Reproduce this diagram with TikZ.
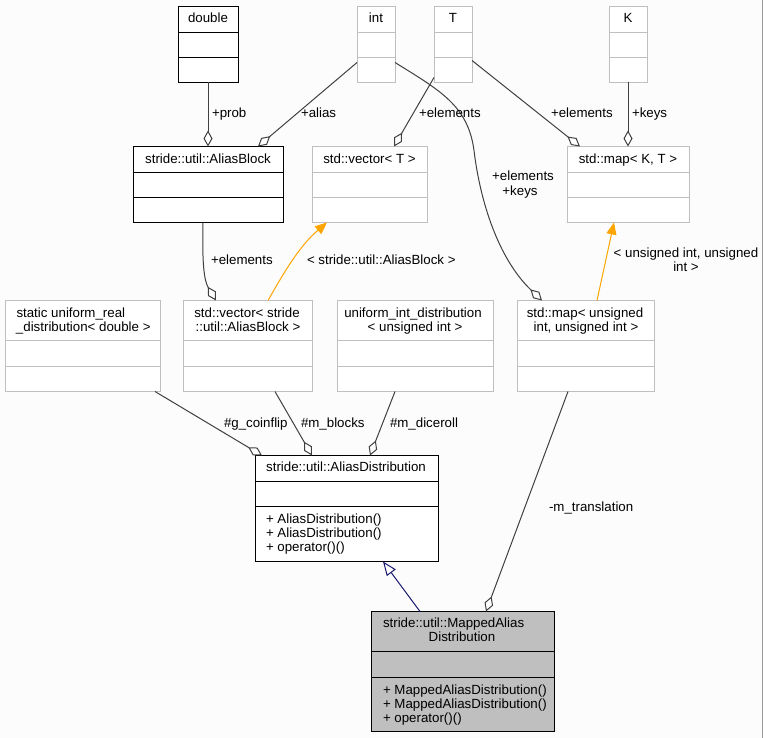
\documentclass[tikz,border=0pt]{standalone}
\usepackage{fontspec}
\setmainfont{Liberation Sans}
\usetikzlibrary{arrows.meta,calc}
\definecolor{bgc}{HTML}{FBFCFB}
\definecolor{boxgray}{HTML}{BFBFBF}
\definecolor{edgegray}{HTML}{404040}
\definecolor{navyblue}{HTML}{191970}
\definecolor{orangec}{HTML}{FFA500}
\definecolor{maingray}{HTML}{BFBFC0}
\newcommand\umlbox[8]{%
  \node[#2, minimum width={(#5-#3)*1pt}, minimum height={(#6-#4)*1pt}, anchor=north west] (#1) at (#3,#4) {};
  \draw[#2 div] (#3,#7) -- (#5,#7);
  \draw[#2 div] (#3,#8) -- (#5,#8);}
\begin{document}
\begin{tikzpicture}[x=1pt,y=-1pt,
  every node/.style={inner sep=0pt, outer sep=0pt, font=\fontsize{13.3}{14.5}\selectfont},
  graybox/.style={draw=boxgray, fill=white, line width=1pt},
  graybox div/.style={draw=boxgray, line width=1pt},
  blackbox/.style={draw=black, fill=white, line width=1pt},
  blackbox div/.style={draw=black, line width=1pt},
  mainbox/.style={draw=black, fill=maingray, line width=1pt},
  mainbox div/.style={draw=black, line width=1pt},
  edge/.style={draw=edgegray, line width=1pt},
  agg/.style={edge, -{Diamond[fill=white, length=16pt, width=9pt, line width=1pt]}},
  spec/.style={draw=orangec, line width=1pt, -{Triangle[length=12pt, width=10pt, fill=orangec]}},
  inherit/.style={draw=navyblue, line width=1pt, -{Triangle[open, fill=white, length=14pt, width=11pt, line width=1pt]}},
  txt/.style={anchor=base},
  ltxt/.style={anchor=base west}]
\fill[bgc] (0,0) rectangle (763,737);
\draw[color=gray!80, line width=1pt] (762.5,0) -- (762.5,737);
% boxes
\umlbox{double}{blackbox}{178}{6}{238}{82}{32}{57}
\umlbox{int}{graybox}{357}{6}{395}{82}{32}{57}
\umlbox{T}{graybox}{434}{6}{472}{82}{32}{57}
\umlbox{K}{graybox}{609}{6}{647}{82}{32}{57}
\umlbox{ablock}{blackbox}{133}{146}{283}{222}{172}{197}
\umlbox{vecT}{graybox}{312}{146}{427}{222}{172}{197}
\umlbox{mapKT}{graybox}{567}{146}{689}{222}{172}{197}
\umlbox{urd}{graybox}{5}{300}{160}{391}{340}{366}
\umlbox{vecAB}{graybox}{183}{300}{312}{391}{340}{366}
\umlbox{uid}{graybox}{337}{300}{493}{391}{340}{366}
\umlbox{mapUU}{graybox}{517}{300}{654}{391}{340}{366}
\umlbox{AD}{blackbox}{255}{455}{438}{561}{481}{506}
\umlbox{MAD}{mainbox}{371}{611}{554}{731}{651}{677}
% titles
\node[txt] (tdouble) at (208,22) {double};
\node[txt] (tint) at (376,22) {int};
\node[txt] (tT) at (453,22) {T};
\node[txt] (tK) at (628,22) {K};
\node[txt] (tablock) at (208,163) {stride::util::AliasBlock};
\node[txt] (tvecT) at (369.5,163) {std::vector< T >};
\node[txt] (tmapKT) at (628,163) {std::map< K, T >};
\node[ltxt] (turd1) at (16.5,317) {static uniform\_real};
\node[ltxt] (turd2) at (16,331) {\_distribution< double >};
\node[txt] (tvecAB1) at (247,317) {std::vector< stride};
\node[txt] (tvecAB2) at (248,331) {::util::AliasBlock >};
\node[txt] (tuid1) at (413,317) {uniform\_int\_distribution};
\node[txt] (tuid2) at (415,331) {< unsigned int >};
\node[txt] (tmapUU1) at (585,317) {std::map< unsigned};
\node[txt] (tmapUU2) at (586,331) {int, unsigned int >};
\node[txt] (tAD) at (346,471) {stride::util::AliasDistribution};
\node[ltxt] (mAD1) at (266,523) {+ AliasDistribution()};
\node[ltxt] (mAD2) at (266,537) {+ AliasDistribution()};
\node[ltxt] (mAD3) at (266,551) {+ operator()()};
\node[ltxt] (tMAD1) at (383,627) {stride::util::MappedAlias};
\node[txt] (tMAD2) at (462,641) {Distribution};
\node[ltxt] (mMAD1) at (383,694) {+ MappedAliasDistribution()};
\node[ltxt] (mMAD2) at (383,708) {+ MappedAliasDistribution()};
\node[ltxt] (mMAD3) at (383,722) {+ operator()()};
% edges
\draw[agg] (double.south) -- (ablock.north);
\draw[agg] ($(int.north west)+(0,56)$) -- ($(ablock.north west)+(125,0)$);
\draw[agg] ($(T.north west)+(0,71)$) -- ($(vecT.north west)+(82,0)$);
\draw[agg] ($(T.north east)+(0,54)$) -- ($(mapKT.north west)+(13,0)$);
\draw[agg] (K.south) -- (mapKT.north);
\draw[agg] ($(int.north east)+(0,56)$) .. controls (440,90) and (468,105) .. (474,150)
  .. controls (480,200) and (498,258) .. ($(mapUU.north west)+(25,0)$);
\draw[agg] ($(ablock.south west)+(70,0)$) .. controls (202,262) and (204,280) .. ($(vecAB.north west)+(33,0)$);
\draw[spec] ($(vecAB.north west)+(85,0)$) .. controls (285,270) and (300,245) .. ($(vecT.south west)+(15,0)$);
\draw[spec] ($(mapUU.north west)+(80,0)$) -- ($(mapKT.south west)+(47,0)$);
\draw[agg] ($(urd.south west)+(150,0)$) -- ($(AD.north west)+(7,0)$);
\draw[agg] ($(vecAB.south west)+(92,0)$) -- ($(AD.north west)+(57,0)$);
\draw[agg] ($(uid.south west)+(58,0)$) -- ($(AD.north west)+(115,0)$);
\draw[inherit] ($(MAD.north west)+(49,0)$) -- ($(AD.south west)+(128,0)$);
\draw[agg] ($(mapUU.south west)+(51,0)$) -- ($(MAD.north west)+(115,0)$);
% edge labels
\node[ltxt] (lprob) at (212,117) {+prob};
\node[ltxt] (lalias) at (301,117) {+alias};
\node[ltxt] (lelT) at (419,117) {+elements};
\node[ltxt] (lelKT) at (551,117) {+elements};
\node[ltxt] (lkeys) at (632,117) {+keys};
\node[txt] (lek1) at (523,180) {+elements};
\node[txt] (lek2) at (520,195) {+keys};
\node[ltxt] (lelAB) at (211,264) {+elements};
\node[ltxt] (lsAB) at (307,264) {< stride::util::AliasBlock >};
\node[txt] (lsUU1) at (686,257) {< unsigned int, unsigned};
\node[txt] (lsUU2) at (686,271) {int >};
\node[ltxt] (lcoin) at (224,427) {\#g\_coinflip};
\node[ltxt] (lblocks) at (301,427) {\#m\_blocks};
\node[ltxt] (ldice) at (390,427) {\#m\_diceroll};
\node[ltxt] (ltrans) at (549,511) {-m\_translation};
\end{tikzpicture}
\end{document}
